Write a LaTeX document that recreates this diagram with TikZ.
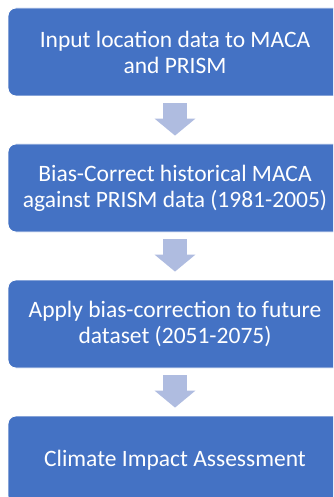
\documentclass[tikz,border=0pt]{standalone}
\usepackage{fontspec}
\setmainfont{Carlito}
\usetikzlibrary{shapes,arrows.meta}
\definecolor{boxblue}{HTML}{4472C4}
\definecolor{arrowblue}{HTML}{AFBCE0}
\tikzstyle{stepbox} = [draw=white, fill=boxblue, text=white, rounded corners=8pt, minimum width=334pt, minimum height=88pt, line width=0.8pt, align=center, font=\fontsize{23.5}{26}\selectfont]
\tikzstyle{flow} = [draw=arrowblue, line width=24pt, -{Triangle[width=40pt,length=17pt]}, shorten <=7pt, shorten >=8pt]

\begin{document}
\begin{tikzpicture}[x=1pt, y=1pt]
    \useasboundingbox (0,0) rectangle (333,-497);
    \clip (0,0) rectangle (333,-497);
    \node [stepbox] (input) at (175,-52) {Input location data to MACA\\and PRISM};
    \node [stepbox, below of=input, node distance=136pt] (bias) {Bias-Correct historical MACA\\against PRISM data (1981-2005)};
    \node [stepbox, below of=bias, node distance=136pt] (apply) {Apply bias-correction to future\\dataset (2051-2075)};
    \node [stepbox, below of=apply, node distance=136pt] (impact) {Climate Impact Assessment};
    \draw [flow] (input) -- (bias);
    \draw [flow] (bias) -- (apply);
    %\draw [flow] (apply.south) -- (impact.north);
    \draw [flow] (apply) -- (impact);
  \end{tikzpicture}
\end{document}
